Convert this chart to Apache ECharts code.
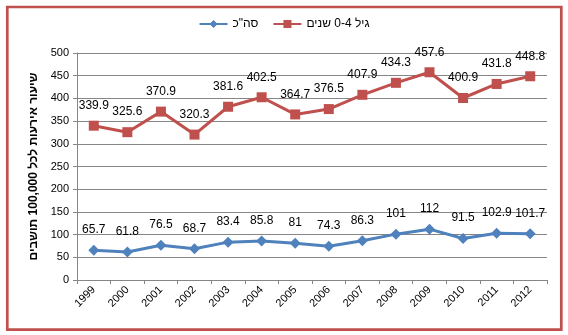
<!DOCTYPE html>
<html>
<head>
<meta charset="utf-8">
<script src="https://cdn.jsdelivr.net/npm/echarts@6/dist/echarts.min.js"></script>
<style>html,body{margin:0;padding:0;background:#fff}#c{width:568px;height:335px}</style>
</head>
<body>
<div id="c"></div>
<script>
const years = ['1999','2000','2001','2002','2003','2004','2005','2006','2007','2008','2009','2010','2011','2012'];
const totalValues = [65.7,61.8,76.5,68.7,83.4,85.8,81,74.3,86.3,101,112,91.5,102.9,101.7];
const age04Values = [339.9,325.6,370.9,320.3,381.6,402.5,364.7,376.5,407.9,434.3,457.6,400.9,431.8,448.8];
const totalName = 'סה"כ';
const age04Name = 'גיל 0-4 שנים';
const yTitle = 'שיעור אירעות לכל 100,000 תושבים';

const chart = echarts.init(document.getElementById('c'));
const font = 'Arial, "Liberation Sans", sans-serif';
chart.setOption({
  animation: false,
  textStyle: {fontFamily: font},
  graphic: [{
    type: 'rect', shape: {x: 7.3, y: 7, width: 554, height: 322.7},
    style: {fill: 'none', stroke: '#C0504D', lineWidth: 2.7}, z: 100
  }],
  legend: {
    top: 13, left: 'center', itemWidth: 28, itemHeight: 10, itemGap: 14,
    textStyle: {fontSize: 12, color: '#000', fontFamily: font},
    data: [totalName, age04Name]
  },
  grid: {left: 77, right: 21, top: 53, bottom: 55},
  xAxis: {
    type: 'category', data: years, boundaryGap: true,
    axisLine: {lineStyle: {color: '#868686'}},
    axisTick: {show: true, length: 4, lineStyle: {color: '#868686'}},
    axisLabel: {rotate: 45, fontSize: 11, color: '#000', margin: 8, fontFamily: font}
  },
  yAxis: {
    type: 'value', min: 0, max: 500, interval: 50,
    name: yTitle, nameLocation: 'middle', nameRotate: 90, nameGap: 32,
    nameTextStyle: {fontSize: 12, fontWeight: 'bold', color: '#000', fontFamily: font},
    axisLine: {show: true, lineStyle: {color: '#868686'}},
    axisTick: {show: true, length: 4, lineStyle: {color: '#868686'}},
    splitLine: {lineStyle: {color: '#868686', width: 1}},
    axisLabel: {fontSize: 11, color: '#000', margin: 8, fontFamily: font}
  },
  series: [
    {
      name: totalName, type: 'line', data: totalValues,
      symbol: 'diamond', symbolSize: 11,
      lineStyle: {color: '#4F81BD', width: 3},
      itemStyle: {color: '#4F81BD'},
      label: {show: true, position: 'top', distance: 9, fontSize: 12, color: '#000', fontFamily: font}
    },
    {
      name: age04Name, type: 'line', data: age04Values,
      symbol: 'rect', symbolSize: 10,
      lineStyle: {color: '#C0504D', width: 3},
      itemStyle: {color: '#C0504D'},
      label: {show: true, position: 'top', distance: 9, fontSize: 12, color: '#000', fontFamily: font}
    }
  ]
});
</script>
</body>
</html>
